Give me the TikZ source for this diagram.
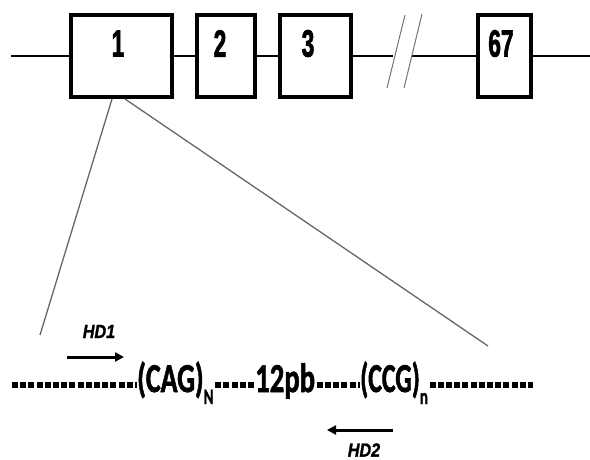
\documentclass[tikz,border=0pt]{standalone}
\usepackage{fontspec}
\setmainfont{Liberation Sans}
\newfontfamily\numfont{Liberation Sans Bold}[FakeBold=2.2]
\newfontfamily\hdfont{Liberation Sans Bold Italic}[FakeBold=1.6]
\newfontfamily\seqfont{Carlito Bold}[FakeBold=1.8]
\usetikzlibrary{arrows.meta}

\tikzset{
  exon/.style={draw=black, line width=3.8pt, fill=white, inner sep=0pt,
    minimum width=#1, minimum height=82pt},
  exnum/.style={font=\numfont\fontsize{38}{38}\selectfont, inner sep=0pt},
  gene/.style={draw=black, line width=1.2pt},
  breakmark/.style={draw=black!55, line width=1pt},
  zoomline/.style={draw=black!60, line width=1.3pt},
  seq/.style={font=\seqfont\fontsize{41}{41}\selectfont, inner sep=0pt, anchor=base west},
  seqdash/.style={draw=black, line width=5.2pt, dash pattern=on 6pt off 2.2pt},
  primer/.style={draw=black, line width=3pt, -{Triangle[length=9pt,width=9pt]}},
  hdlab/.style={font=\hdfont\fontsize{19}{19}\selectfont, inner sep=0pt}
}

\newcommand{\narrow}[2]{\scalebox{#1}[1]{#2}}

\begin{document}
\begin{tikzpicture}[x=1pt,y=-1pt]
  \useasboundingbox (0,0) rectangle (590,460);

  % gene: exons on the backbone
  \node[exon=101pt] (b1)  at (121.5,56) {};
  \node[exon=58pt]  (b2)  at (226,56)   {};
  \node[exon=71pt]  (b3)  at (315.5,56) {};
  \node[exon=53pt]  (b67) at (504.5,56) {};

  \node[exnum] (n1)  at (118,43.5) {\narrow{0.6}{1}};
  \node[exnum] (n2)  at (220,43.5) {\narrow{0.6}{2}};
  \node[exnum] (n3)  at (308,43.5) {\narrow{0.6}{3}};
  \node[exnum] (n67) at (501,43.5) {\narrow{0.6}{67}};

  % backbone segments, interrupted by the break mark
  \coordinate (g0) at (11,56);
  \coordinate (gb1) at (393,56);
  \coordinate (gb2) at (412,56);
  \coordinate (g1) at (590,56);
  \draw[gene] (g0) -- (b1.west);
  \draw[gene] (b1.east) -- (b2.west);
  \draw[gene] (b2.east) -- (b3.west);
  \draw[gene] (b3.east) -- (gb1);
  \draw[gene] (gb2) -- (b67.west);
  \draw[gene] (b67.east) -- (g1);

  % break mark
  \draw[breakmark] (387,88) -- (405,15);
  \draw[breakmark] (404,88) -- (422,14);

  % zoom into exon 1
  \coordinate (z1) at (112,99);
  \coordinate (z2) at (125,99);
  \coordinate (z1e) at (40,335);
  \coordinate (z2e) at (488,346);
  \draw[zoomline] (z1) -- (z1e);
  \draw[zoomline] (z2) -- (z2e);

  % exon 1 sequence
  \node[seq] (cag) at (137,392) {\narrow{0.68}{(CAG)}\raisebox{-12pt}{\fontsize{22}{22}\selectfont\narrow{0.68}{N}}};
  \node[seq] (pb)  at (255,392) {\narrow{0.7}{12pb}};
  \node[seq] (ccg) at (360,392) {\narrow{0.63}{(CCG)}\raisebox{-12pt}{\fontsize{22}{22}\selectfont\narrow{0.68}{n}}};

  \coordinate (s0) at (12,385);
  \coordinate (s1) at (533,385);
  \draw[seqdash] (s0) -- (s0 -| cag.west);
  \draw[seqdash] (s0 -| cag.east) ++(1.5,0) -- (s0 -| pb.west);
  \draw[seqdash] (s0 -| pb.east) ++(1.5,0) -- (s0 -| ccg.west);
  \draw[seqdash] (s0 -| ccg.east) ++(1.5,0) -- (s1);

  % primers
  \coordinate (p1s) at (67,357);
  \coordinate (p1e) at (124,357);
  \coordinate (p2s) at (393,430);
  \coordinate (p2e) at (327,430);
  \draw[primer] (p1s) -- (p1e);
  \draw[primer] (p2s) -- (p2e);
  \node[hdlab] (hd1) at (99,331.5) {\narrow{0.85}{HD1}};
  \node[hdlab] (hd2) at (364,450) {\narrow{0.85}{HD2}};
\end{tikzpicture}
\end{document}
